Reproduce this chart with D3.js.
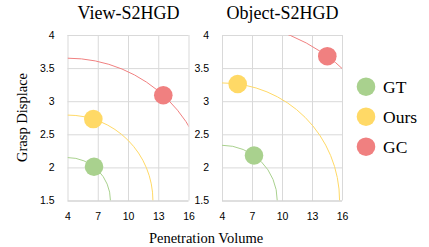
<!DOCTYPE html>
<html>
<head>
<meta charset="utf-8">
<script src="https://cdn.jsdelivr.net/npm/d3@7"></script>
<style>
  html, body { margin: 0; padding: 0; background: #fff; }
  svg { display: block; }
</style>
</head>
<body>
<svg id="chart" width="429" height="247"></svg>
<script>
const categories = ["GT", "Ours", "GC"];
const colors = ["#a9d18e", "#ffd966", "#f08080"];
const viewPenetration = [6.63, 6.56, 13.5];
const viewGrasp = [2.01, 2.73, 3.09];
const objectPenetration = [7.2, 5.57, 14.53];
const objectGrasp = [2.18, 3.26, 3.68];
const xTicks = [4, 7, 10, 13, 16];
const yTicks = [1.5, 2, 2.5, 3, 3.5, 4];
const panelTitles = ["View-S2HGD", "Object-S2HGD"];

const svg = d3.select("#chart");
const serif = "'Liberation Serif', 'Times New Roman', serif";
const sans = "'Liberation Sans', Arial, sans-serif";

const panels = [
  { title: panelTitles[0], xs: viewPenetration, ys: viewGrasp, x0: 67.5, x1: 188.5 },
  { title: panelTitles[1], xs: objectPenetration, ys: objectGrasp, x0: 222, x1: 342 }
];
const yTop = 35, yBot = 200.5;

panels.forEach((p, pi) => {
  const x = d3.scaleLinear().domain([4, 16]).range([p.x0, p.x1]);
  const y = d3.scaleLinear().domain([1.5, 4]).range([yBot, yTop]);
  const g = svg.append("g");

  const gx = g.append("g").attr("transform", `translate(0,${yBot})`)
    .call(d3.axisBottom(x).tickValues(xTicks).tickSize(-(yBot - yTop)).tickFormat(d3.format("d")).tickPadding(12));
  gx.select(".domain").remove();
  gx.selectAll(".tick line").attr("stroke", "#d9d9d9").attr("stroke-width", 1);
  gx.selectAll(".tick text").attr("font-family", sans).attr("font-size", 10.5).attr("fill", "#000");

  const gy = g.append("g").attr("transform", `translate(${p.x0},0)`)
    .call(d3.axisLeft(y).tickValues(yTicks).tickSize(-(p.x1 - p.x0)).tickFormat(d => d).tickPadding(13));
  gy.select(".domain").remove();
  gy.selectAll(".tick line").attr("stroke", d => d === 1.5 ? "#bfbfbf" : "#d9d9d9").attr("stroke-width", 1);
  gy.selectAll(".tick text").attr("font-family", sans).attr("font-size", 10.5).attr("fill", "#000");

  const clipId = "clip" + pi;
  svg.append("clipPath").attr("id", clipId).append("rect")
    .attr("x", p.x0).attr("y", yTop).attr("width", p.x1 - p.x0).attr("height", yBot - yTop);

  const cx = x(4), cy = y(1.5);
  const arcs = g.append("g").attr("clip-path", `url(#${clipId})`);
  categories.forEach((c, i) => {
    const px = x(p.xs[i]), py = y(p.ys[i]);
    const r = Math.hypot(px - cx, py - cy);
    const path = d3.path();
    path.moveTo(cx, cy - r);
    path.arc(cx, cy, r, -Math.PI / 2, 0);
    arcs.append("path").attr("d", path.toString()).attr("fill", "none")
      .attr("stroke", colors[i]).attr("stroke-width", 1);
  });

  g.append("g").selectAll("circle").data(categories).join("circle")
    .attr("cx", (d, i) => x(p.xs[i]))
    .attr("cy", (d, i) => y(p.ys[i]))
    .attr("r", 9.3)
    .attr("fill", (d, i) => colors[i]);

  g.append("text").attr("x", (p.x0 + p.x1) / 2 + 0.5).attr("y", 19)
    .attr("text-anchor", "middle").attr("font-family", serif).attr("font-size", 18)
    .attr("fill", "#000").text(p.title);
});

svg.append("text").attr("transform", "translate(26.5,117.5) rotate(-90)")
  .attr("text-anchor", "middle").attr("font-family", serif).attr("font-size", 14.5)
  .attr("fill", "#000").text("Grasp Displace");
svg.append("text").attr("x", 206).attr("y", 242.5)
  .attr("text-anchor", "middle").attr("font-family", serif).attr("font-size", 14.5)
  .attr("fill", "#000").text("Penetration Volume");

const legend = svg.append("g");
categories.forEach((c, i) => {
  const ly = 86.7 + i * 30;
  legend.append("circle").attr("cx", 366).attr("cy", ly).attr("r", 9.3).attr("fill", colors[i]);
  legend.append("text").attr("x", 383).attr("y", ly + 6).attr("font-family", serif)
    .attr("font-size", 17.5).attr("fill", "#000").text(c);
});
</script>
</body>
</html>
